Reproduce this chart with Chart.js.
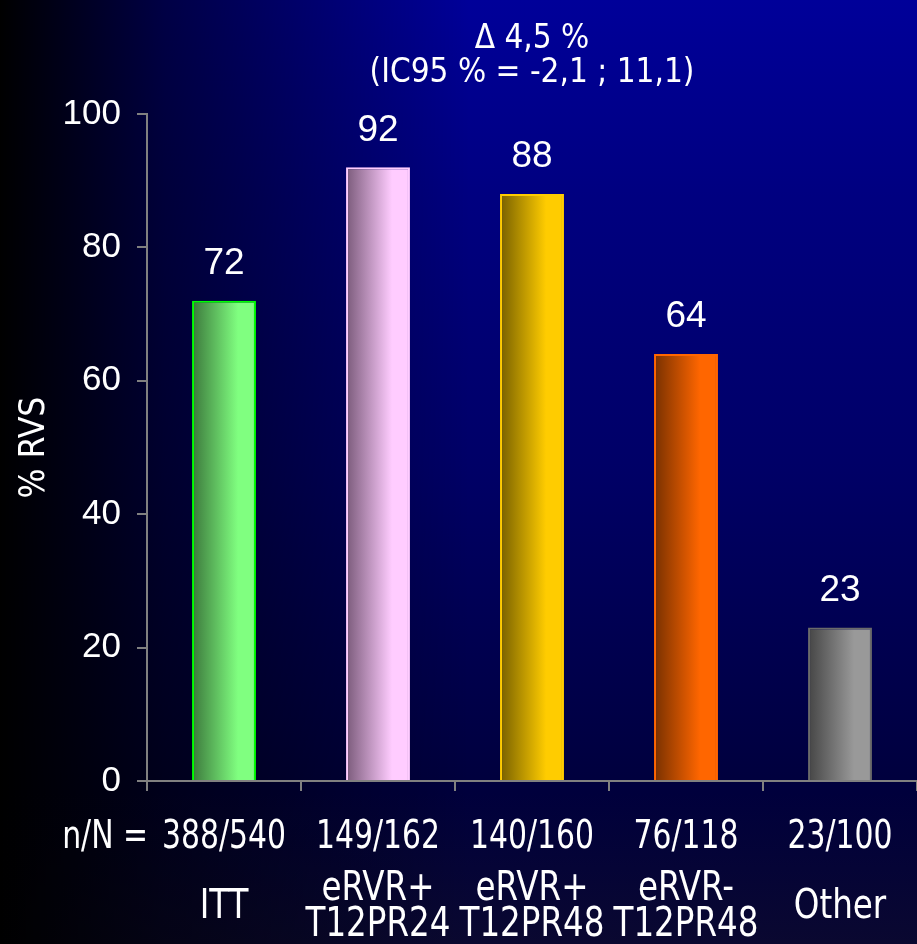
<!DOCTYPE html>
<html>
<head>
<meta charset="utf-8">
<script src="https://cdn.jsdelivr.net/npm/chart.js@4/dist/chart.umd.min.js"></script>
<style>
  html, body { margin: 0; padding: 0; background: #000; }
  #c { display: block; }
</style>
</head>
<body>
<canvas id="c" width="917" height="944"></canvas>
<script>
// Groups, counts and response rates
const categories = [["ITT"], ["eRVR+", "T12PR24"], ["eRVR+", "T12PR48"], ["eRVR-", "T12PR48"], ["Other"]];
const counts = ["388/540", "149/162", "140/160", "76/118", "23/100"];
const svr = [72, 92, 88, 64, 23];
const countsPrefix = "n/N =";
const titleLines = ["\u0394 4,5 %", "(IC95 % = -2,1 ; 11,1)"];
const yTitle = "% RVS";
const yMin = 0, yMax = 100, yStep = 20;

// Bar colours: dark edge, light edge, outline
const barDark = ["#3c783c", "#7a5a7a", "#776000", "#773000", "#454545"];
const barLight = ["#80ff80", "#ffccff", "#ffcc00", "#ff6600", "#999999"];
const barBorder = ["#00ff00", "#ffccff", "#ffcc00", "#ff6600", "#6a6a6a"];

const NARROW = "'Liberation Sans Narrow', 'Arial Narrow', 'DejaVu Sans Condensed', 'Liberation Sans', Arial, sans-serif";
const REGULAR = "'Liberation Sans', Arial, sans-serif";
const BAR_PCT = 0.415;

// Size a condensed font so a sample string spans a given width
const measureCtx = document.createElement('canvas').getContext('2d');
function fitSize(sample, family, width) {
  measureCtx.font = '100px ' + family;
  return 100 * width / measureCtx.measureText(sample).width;
}
const countSize = fitSize("388/540", NARROW, 124);
const nameSize = fitSize("T12PR24", NARROW, 145);
const titleSize = fitSize(titleLines[1], NARROW, 325);
const yTitleSize = fitSize(yTitle, NARROW, 102);

// Vertical stretch and centre line (canvas y) of the condensed captions
const COUNT_TALL = 1.2, COUNT_MID = 838;
const NAME_TALL = 1.12, NAME_MID = 907;
const COUNT_LH = 40;
const NAME_LH = 36 / NAME_TALL;

function stretched(ctx, cy, k, fn) {
  ctx.save();
  ctx.translate(0, cy);
  ctx.scale(1, k);
  ctx.translate(0, -cy);
  fn();
  ctx.restore();
}

const backdrop = {
  id: 'backdrop',
  beforeDraw(chart) {
    const { ctx, width, height } = chart;
    ctx.save();
    const v = ctx.createLinearGradient(0, 0, 0, height);
    v.addColorStop(0, '#000099');
    v.addColorStop(0.21, '#000080');
    v.addColorStop(0.5, '#000066');
    v.addColorStop(0.84, '#00003c');
    v.addColorStop(1, '#0a0830');
    ctx.fillStyle = v;
    ctx.fillRect(0, 0, width, height);
    const h = ctx.createLinearGradient(0, 0, 470, 0);
    h.addColorStop(0, 'rgba(0,0,0,1)');
    h.addColorStop(0.35, 'rgba(0,0,0,0.55)');
    h.addColorStop(1, 'rgba(0,0,0,0)');
    ctx.fillStyle = h;
    ctx.fillRect(0, 0, width, height);
    ctx.restore();
  }
};

// Give the category captions a taller, condensed look
const tallText = {
  id: 'tallText',
  beforeDraw(chart) {
    const ctx = chart.ctx;
    const wrap = (obj, method, cy, k) => {
      if (!obj || obj['_tall_' + method]) return;
      const orig = obj[method].bind(obj);
      obj[method] = function (...args) { stretched(ctx, cy, k, () => orig(...args)); };
      obj['_tall_' + method] = true;
    };
    wrap(chart.scales.x, 'drawLabels', COUNT_MID, COUNT_TALL);
    wrap(chart.scales.x2, 'drawLabels', NAME_MID, NAME_TALL);
  }
};

const valueLabels = {
  id: 'valueLabels',
  afterDatasetsDraw(chart) {
    const { ctx } = chart;
    const meta = chart.getDatasetMeta(0);
    ctx.save();
    ctx.fillStyle = '#ffffff';
    ctx.font = '37px ' + REGULAR;
    ctx.textAlign = 'center';
    ctx.textBaseline = 'middle';
    meta.data.forEach((el, i) => {
      ctx.fillText(String(svr[i]), el.x, el.y - 37);
    });
    ctx.restore();
  }
};

const prefixLabel = {
  id: 'prefixLabel',
  afterDraw(chart) {
    const xs = chart.scales.x;
    const { ctx } = chart;
    stretched(ctx, COUNT_MID, COUNT_TALL, () => {
      ctx.fillStyle = '#ffffff';
      ctx.font = countSize.toFixed(1) + 'px ' + NARROW;
      ctx.textAlign = 'right';
      ctx.textBaseline = 'middle';
      ctx.fillText(countsPrefix, xs.left + 1, COUNT_MID);
    });
  }
};

function barFill(ctx) {
  const i = ctx.dataIndex;
  const chart = ctx.chart;
  const xs = chart.scales.x;
  if (!chart.chartArea || !xs || !xs.width) return barLight[i];
  const cx = xs.getPixelForValue(i);
  const w = (xs.width / counts.length) * BAR_PCT;
  const g = chart.ctx.createLinearGradient(cx - w / 2, 0, cx + w / 2, 0);
  g.addColorStop(0, barDark[i]);
  g.addColorStop(0.72, barLight[i]);
  g.addColorStop(1, barLight[i]);
  return g;
}

function noSidePadding(scale) {
  scale.paddingLeft = 0;
  scale.paddingRight = 0;
}

// Axis heights: counts row 781..861, group names row 861..944
const X_HEIGHT = 80;
const X2_HEIGHT = 83;

new Chart(document.getElementById('c'), {
  type: 'bar',
  data: {
    labels: counts,
    datasets: [{
      data: svr,
      xAxisID: 'x',
      yAxisID: 'y',
      backgroundColor: barFill,
      borderColor: barBorder,
      borderWidth: 2,
      barPercentage: BAR_PCT,
      categoryPercentage: 1
    }]
  },
  options: {
    responsive: false,
    animation: false,
    devicePixelRatio: 1,
    layout: { padding: 0 },
    plugins: {
      legend: { display: false },
      tooltip: { enabled: false },
      title: {
        display: true,
        fullSize: false,
        text: titleLines,
        color: '#ffffff',
        font: { family: NARROW, size: titleSize, weight: 'normal', lineHeight: '34px' },
        padding: { top: 22, bottom: 24 }
      }
    },
    scales: {
      x: {
        type: 'category',
        position: 'bottom',
        labels: counts,
        offset: true,
        grid: { display: true, drawOnChartArea: false, drawTicks: true, tickLength: 10, color: '#808080', lineWidth: 2, offset: true },
        border: { display: true, color: '#808080', width: 2 },
        ticks: { color: '#ffffff', font: { family: NARROW, size: countSize, lineHeight: COUNT_LH + 'px' }, padding: COUNT_MID - 781 - 10 - COUNT_LH / 2, maxRotation: 0, autoSkip: false },
        afterFit(scale) { scale.height = X_HEIGHT; noSidePadding(scale); }
      },
      x2: {
        type: 'category',
        position: 'bottom',
        labels: categories,
        offset: true,
        grid: { display: false, drawTicks: false },
        border: { display: false },
        ticks: { color: '#ffffff', font: { family: NARROW, size: nameSize, lineHeight: NAME_LH + 'px' }, padding: NAME_MID - (781 + X_HEIGHT) - NAME_LH / 2, crossAlign: 'center', maxRotation: 0, autoSkip: false },
        afterFit(scale) { scale.height = X2_HEIGHT; noSidePadding(scale); }
      },
      y: {
        min: yMin,
        max: yMax,
        grid: { drawOnChartArea: false, drawTicks: true, tickLength: 10, color: '#808080', lineWidth: 2 },
        border: { display: true, color: '#808080', width: 2 },
        ticks: { stepSize: yStep, color: '#ffffff', font: { family: REGULAR, size: 35 }, padding: 16 },
        title: { display: true, text: yTitle, color: '#ffffff', font: { family: NARROW, size: yTitleSize, lineHeight: '40px' }, padding: { top: 15, bottom: 0 } },
        afterFit(scale) { scale.width = 147; }
      }
    }
  },
  plugins: [backdrop, tallText, valueLabels, prefixLabel]
});
</script>
</body>
</html>
